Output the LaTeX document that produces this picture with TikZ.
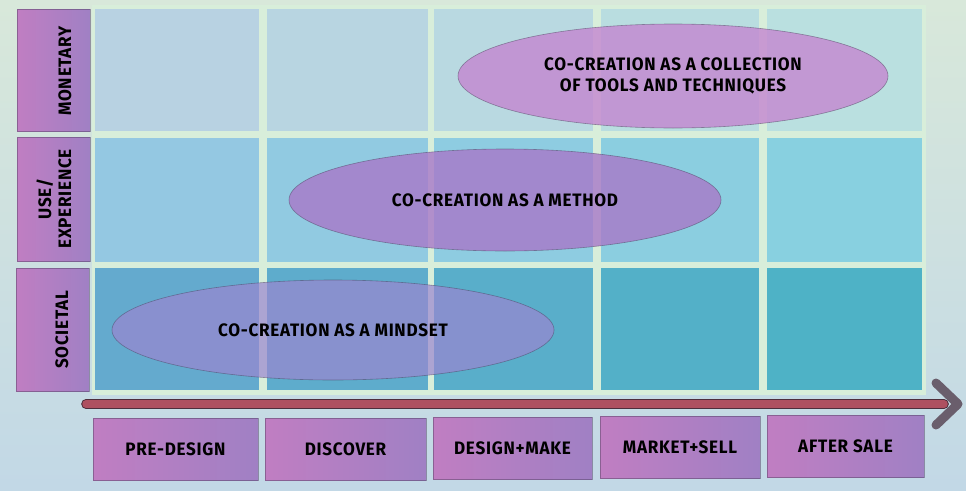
\documentclass[tikz,border=0pt]{standalone}
\usepackage{fontspec}
\setmainfont{Fira Sans}[FakeStretch=0.95, LetterSpace=4]
\usetikzlibrary{shapes.geometric}
\definecolor{bgtop}{HTML}{D8E8DA}
\definecolor{bgbot}{HTML}{C2D8E6}
\definecolor{gapcol}{HTML}{D8EEDA}
\definecolor{rAL}{HTML}{B8D2E2}
\definecolor{rAR}{HTML}{BAE0E0}
\definecolor{rBL}{HTML}{94C8E2}
\definecolor{rBR}{HTML}{88D0E0}
\definecolor{rCL}{HTML}{64AACE}
\definecolor{rCR}{HTML}{4EB2C6}
\definecolor{lblL}{HTML}{C07EC2}
\definecolor{lblR}{HTML}{A080C4}
\definecolor{edgecol}{HTML}{4A3C5A}
\definecolor{ovalA}{HTML}{C486D0}
\definecolor{ovalB}{HTML}{A878C8}
\definecolor{ovalC}{HTML}{9A86D0}
\definecolor{shaftcol}{HTML}{AE5060}
\definecolor{shaftedge}{HTML}{4E2E3C}
\definecolor{headcol}{HTML}{6A5E6C}
\begin{document}
\begin{tikzpicture}[x=1pt,y=-1pt,
  txt/.style={font=\fontsize{18}{21}\selectfont\bfseries, text=black, align=center},
  cell/.style={anchor=north west, inner sep=0pt, outer sep=0pt},
  lbl/.style={anchor=north west, inner sep=0pt, outer sep=0pt, left color=lblL, right color=lblR, draw=edgecol, draw opacity=0.45, line width=0.6pt},
  oval/.style={ellipse, inner sep=0pt, draw=edgecol, draw opacity=0.5, line width=0.6pt, fill opacity=0.8, text opacity=1, txt}
]
\fill[top color=bgtop, bottom color=bgbot] (0,0) rectangle (966,490);
\useasboundingbox (0,0) rectangle (966,490);
\fill[gapcol] (92,5) rectangle (926,395);
% grid cells
\foreach \x/\w/\t [count=\i] in {95/164/0, 267/161/25, 434/159/50, 601/158/75, 767/155/100} {
  \node[cell, fill=rAR!\t!rAL, minimum width=\w pt, minimum height=122pt] (a\i) at (\x,9) {};
  \node[cell, fill=rBR!\t!rBL, minimum width=\w pt, minimum height=124pt] (b\i) at (\x,138) {};
  \node[cell, fill=rCR!\t!rCL, minimum width=\w pt, minimum height=122pt] (c\i) at (\x,268) {};
}
% ovals
\node[oval, fill=ovalA, minimum width=430pt, minimum height=104pt] (tools) at (673,76) {CO-CREATION AS A COLLECTION\\OF TOOLS AND TECHNIQUES};
\node[oval, fill=ovalB, minimum width=432pt, minimum height=102pt] (method) at (505,200) {CO-CREATION AS A METHOD};
\node[oval, fill=ovalC, fill opacity=0.7, minimum width=442pt, minimum height=100pt] (mindset) at (333,330) {CO-CREATION AS A MINDSET};
% row labels
\node[lbl, minimum width=73pt, minimum height=122pt] (lmon) at (17,9) {};
\node[lbl, minimum width=73pt, minimum height=124pt] (luse) at (17,137) {};
\node[lbl, minimum width=73pt, minimum height=123pt] (lsoc) at (16,268) {};
\node[txt, rotate=90] (tmon) at (65,71) {MONETARY};
\node[txt, rotate=90, font=\fontsize{18}{20}\selectfont\bfseries] (tuse) at (54,199) {USE/\\EXPERIENCE};
\node[txt, rotate=90] (tsoc) at (62,330) {SOCIETAL};
% timeline arrow
\coordinate (tstart) at (86,404);
\coordinate (tend) at (944,404);
\draw[draw=shaftedge, double=shaftcol, double distance=7.5pt, line width=1.1pt, line cap=round] (tstart) -- (tend);
\draw[headcol, line width=9pt, line cap=round, line join=round] (tend) ++(-8,-21) -- ++(22,21) -- ++(-22,21);
% phase boxes
\node[lbl, minimum width=165pt, minimum height=62pt] (p1) at (93,418) {};
\node[lbl, minimum width=161pt, minimum height=62pt] (p2) at (265,418) {};
\node[lbl, minimum width=159pt, minimum height=62pt] (p3) at (433,417) {};
\node[lbl, minimum width=160pt, minimum height=62pt] (p4) at (600,416) {};
\node[lbl, minimum width=157pt, minimum height=62pt] (p5) at (767,415) {};
\node[txt] at (p1.center) {PRE-DESIGN};
\node[txt] at (p2.center) {DISCOVER};
\node[txt] at (p3.center) {DESIGN+MAKE};
\node[txt] at (p4.center) {MARKET+SELL};
\node[txt] at (p5.center) {AFTER SALE};
\end{tikzpicture}
\end{document}
